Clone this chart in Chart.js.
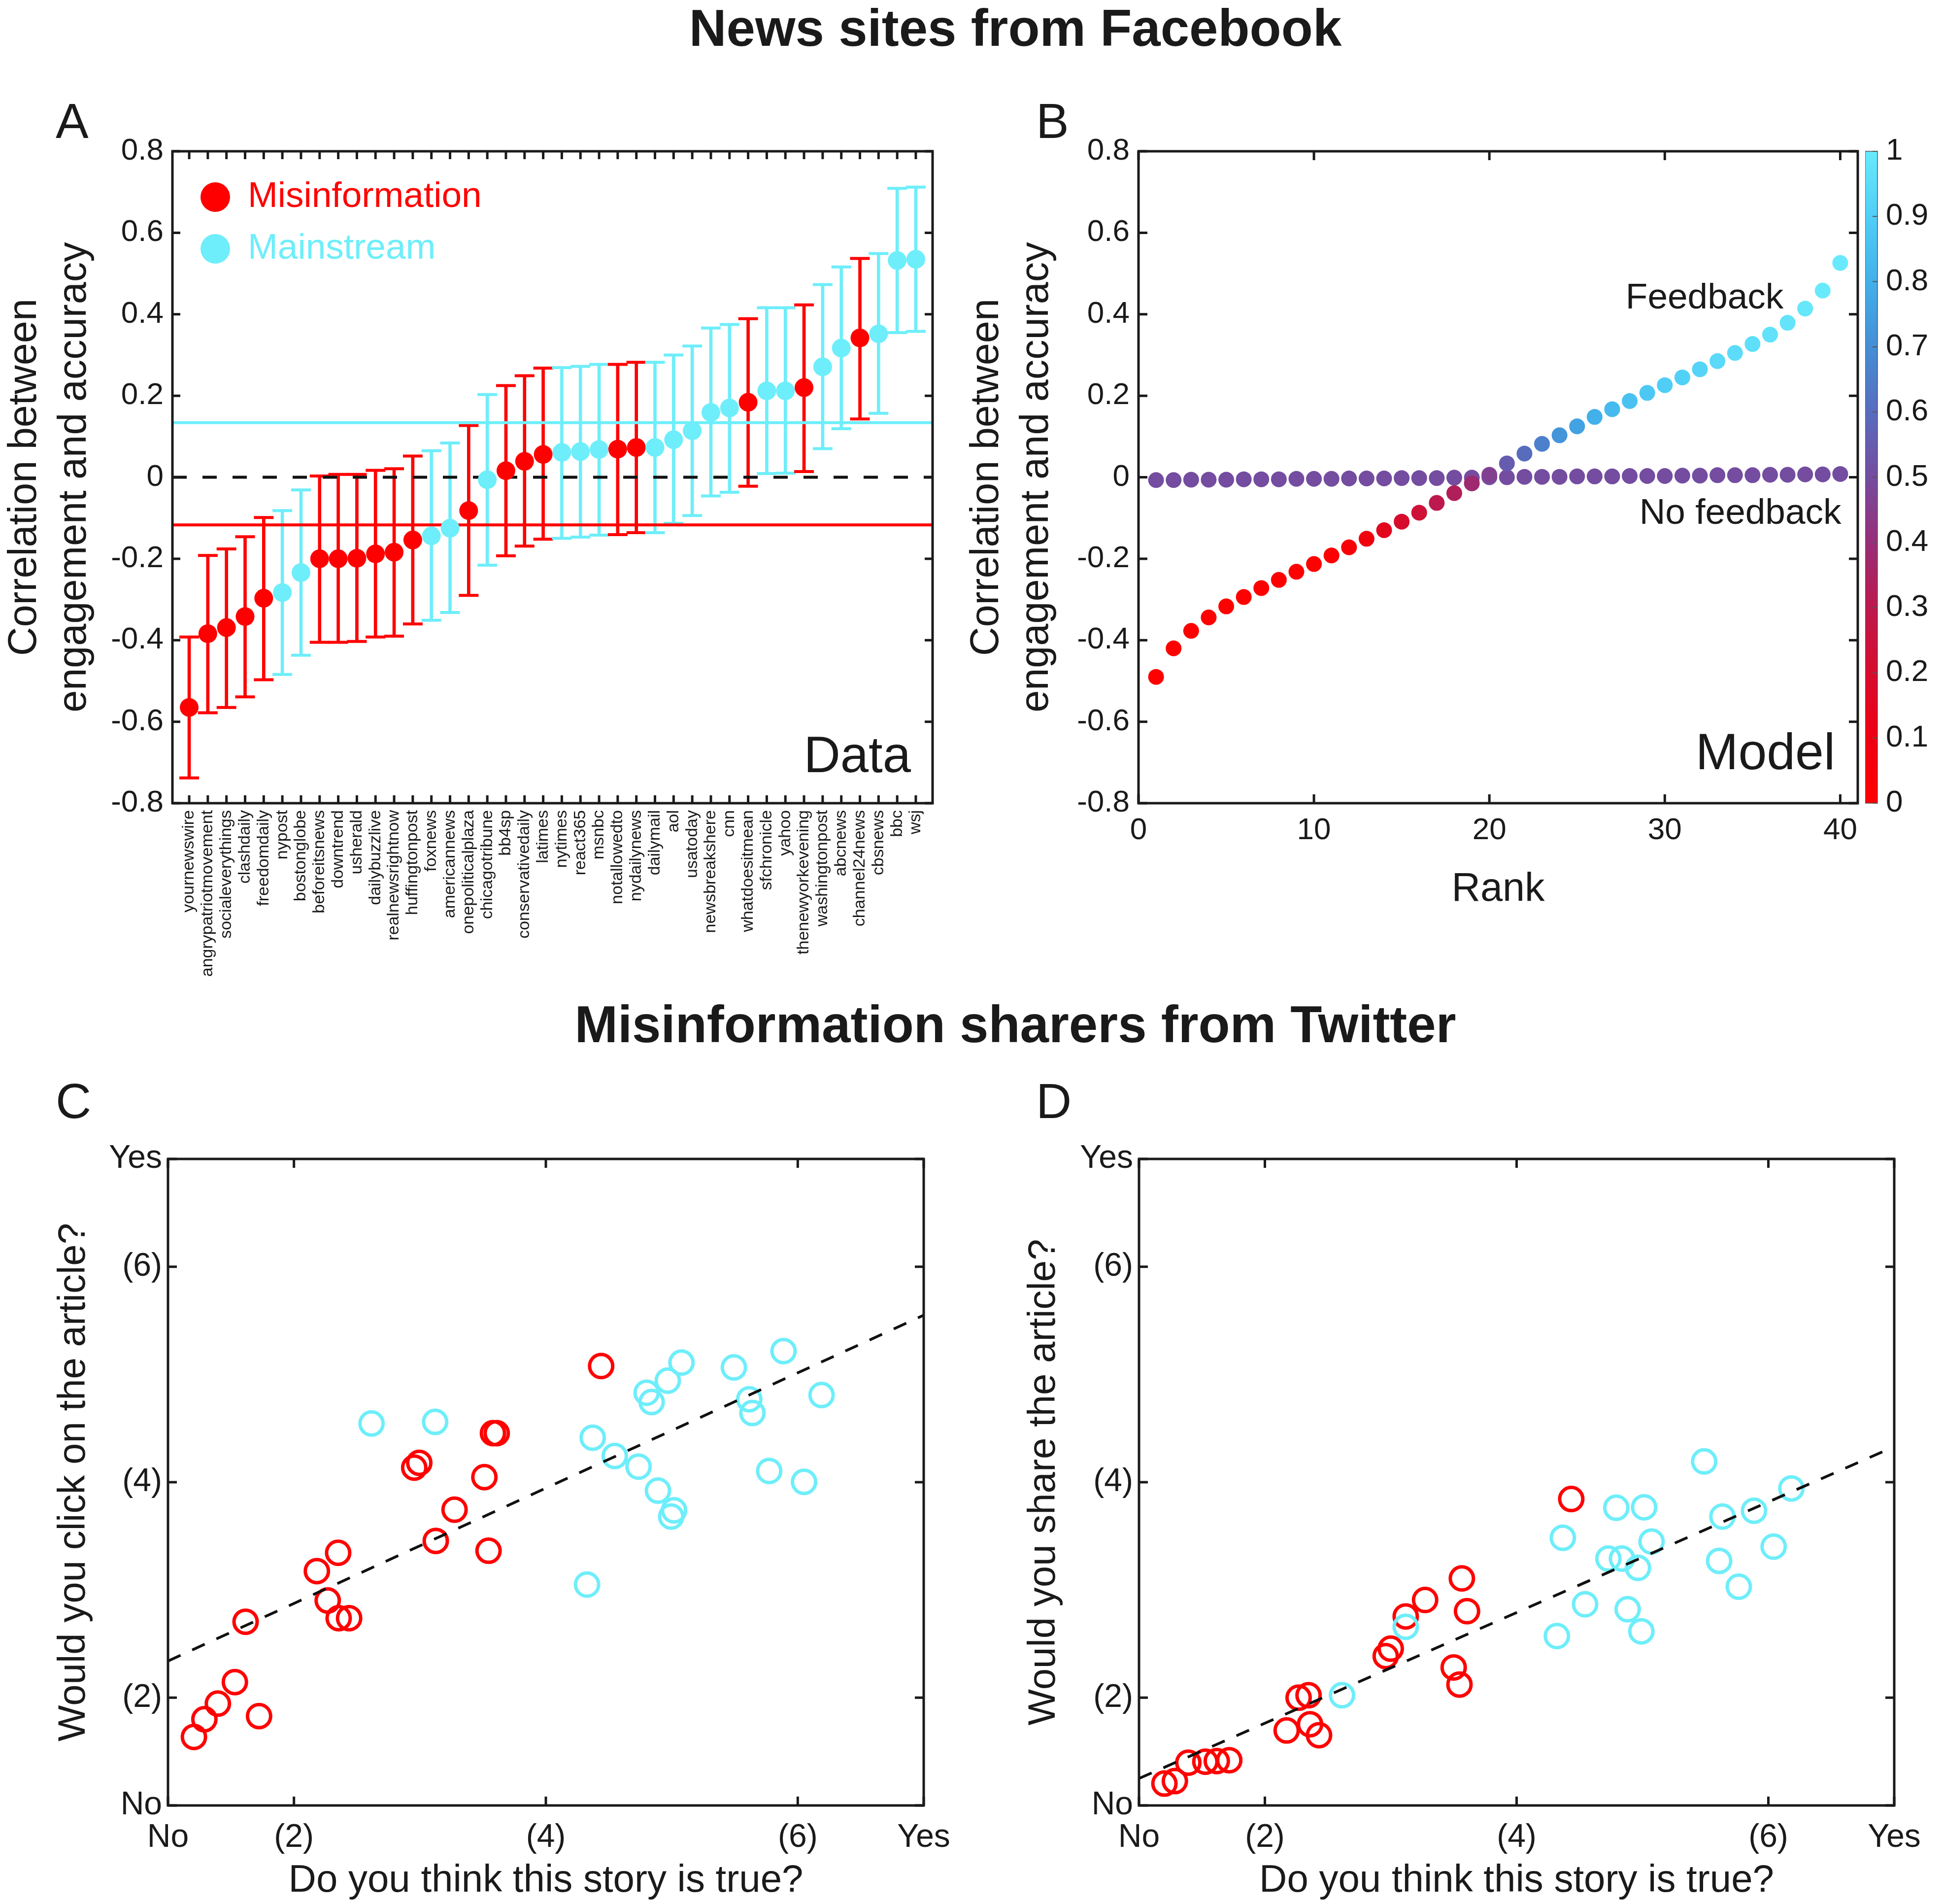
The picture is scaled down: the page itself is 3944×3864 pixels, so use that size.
<!DOCTYPE html>
<html>
<head>
<meta charset="utf-8">
<title>News sites from Facebook / Misinformation sharers from Twitter</title>
<script src="https://cdn.jsdelivr.net/npm/chart.js@4/dist/chart.umd.min.js"></script>
<style>
  html, body { margin:0; padding:0; background:#ffffff; }
  body { position:relative; width:3944px; height:3864px; overflow:hidden;
         font-family:'Liberation Sans', Arial, Helvetica, sans-serif; color:#1a1a1a; }
  canvas { position:absolute; }
  .lbl { position:absolute; white-space:nowrap; line-height:1; }
  .ttl { font-weight:bold; font-size:105px; transform:translateX(-50%); }
  .pl { font-size:100px; }
</style>
</head>
<body>
<div class="lbl ttl" style="left:2061px; top:4px;">News sites from Facebook</div>
<div class="lbl pl" style="left:113px; top:195px;">A</div>
<div class="lbl pl" style="left:2103px; top:195px;">B</div>
<div class="lbl ttl" style="left:2061px; top:2026px;">Misinformation sharers from Twitter</div>
<div class="lbl pl" style="left:113px; top:2184px;">C</div>
<div class="lbl pl" style="left:2103px; top:2184px;">D</div>

<canvas id="cA" width="2010" height="1840" style="left:0px; top:180px;"></canvas>
<canvas id="cB" width="1994" height="1840" style="left:1950px; top:180px;"></canvas>
<canvas id="cBar" width="158" height="1480" style="left:3786px; top:230px;"></canvas>
<canvas id="cC" width="2000" height="1614" style="left:0px; top:2250px;"></canvas>
<canvas id="cD" width="1984" height="1614" style="left:1960px; top:2250px;"></canvas>

<script>
// ================= DATA =================
// ---- Panel A: news sites (Facebook) ----
const siteNames = ['yournewswire','angrypatriotmovement','socialeverythings','clashdaily','freedomdaily','nypost','bostonglobe','beforeitsnews','downtrend','usherald','dailybuzzlive','realnewsrightnow','huffingtonpost','foxnews','americannews','onepoliticalplaza','chicagotribune','bb4sp','conservativedaily','latimes','nytimes','react365','msnbc','notallowedto','nydailynews','dailymail','aol','usatoday','newsbreakshere','cnn','whatdoesitmean','sfchronicle','yahoo','thenewyorkevening','washingtonpost','abcnews','channel24news','cbsnews','bbc','wsj'];
const siteGroup = ['mis','mis','mis','mis','mis','main','main','mis','mis','mis','mis','mis','mis','main','main','mis','main','mis','mis','mis','main','main','main','mis','mis','main','main','main','main','main','mis','main','main','mis','main','main','mis','main','main','main'];
const siteCorr = [-0.565,-0.384,-0.369,-0.342,-0.297,-0.283,-0.234,-0.200,-0.200,-0.199,-0.188,-0.184,-0.154,-0.144,-0.125,-0.082,-0.006,0.016,0.039,0.056,0.061,0.063,0.068,0.069,0.073,0.073,0.092,0.114,0.159,0.170,0.184,0.212,0.212,0.220,0.271,0.317,0.342,0.352,0.532,0.535];
const siteLow = [-0.738,-0.578,-0.565,-0.539,-0.497,-0.484,-0.437,-0.405,-0.405,-0.403,-0.392,-0.390,-0.360,-0.351,-0.332,-0.290,-0.216,-0.193,-0.169,-0.152,-0.150,-0.147,-0.142,-0.141,-0.136,-0.136,-0.113,-0.094,-0.046,-0.037,-0.022,0.009,0.010,0.014,0.070,0.119,0.143,0.157,0.355,0.358];
const siteHigh = [-0.392,-0.192,-0.176,-0.146,-0.099,-0.082,-0.031,0.003,0.007,0.007,0.017,0.021,0.052,0.065,0.084,0.127,0.203,0.225,0.249,0.268,0.269,0.272,0.277,0.277,0.282,0.282,0.300,0.322,0.366,0.375,0.389,0.416,0.416,0.423,0.473,0.516,0.537,0.549,0.709,0.712];
const misMean = -0.117;
const mainMean = 0.134;
const legendLabels = ['Misinformation', 'Mainstream'];

// ---- Panel B: model ----
const rankValues = [1,2,3,4,5,6,7,8,9,10,11,12,13,14,15,16,17,18,19,20,21,22,23,24,25,26,27,28,29,30,31,32,33,34,35,36,37,38,39,40];
const feedbackCorr = [-0.490,-0.420,-0.377,-0.344,-0.317,-0.294,-0.272,-0.252,-0.232,-0.213,-0.192,-0.172,-0.151,-0.130,-0.109,-0.087,-0.063,-0.039,-0.015,0.006,0.034,0.058,0.082,0.103,0.125,0.148,0.167,0.187,0.207,0.226,0.245,0.265,0.285,0.305,0.327,0.350,0.379,0.414,0.458,0.526];
const feedbackShade = [0,0,0,0,0,0,0,0,0,0,0.02,0.04,0.08,0.15,0.20,0.23,0.30,0.33,0.38,0.46,0.55,0.60,0.66,0.72,0.76,0.80,0.83,0.86,0.88,0.90,0.91,0.92,0.94,0.95,0.96,0.97,0.98,0.99,1,1];
const noFeedbackCorr = [-0.007,-0.007,-0.006,-0.006,-0.006,-0.005,-0.005,-0.005,-0.004,-0.004,-0.004,-0.003,-0.003,-0.003,-0.002,-0.002,-0.002,-0.001,-0.001,0.000,0.000,0.001,0.001,0.001,0.002,0.002,0.002,0.003,0.003,0.003,0.004,0.004,0.005,0.005,0.005,0.006,0.006,0.007,0.007,0.008];
const noFeedbackShade = 0.5;
const rankTicks = [0,10,20,30,40];
const shadeStops = [[0,[255,0,0]],[0.1,[238,0,18]],[0.2,[215,12,45]],[0.3,[188,25,78]],[0.4,[152,45,120]],[0.5,[116,76,160]],[0.6,[88,108,190]],[0.7,[68,142,214]],[0.8,[66,176,234]],[0.9,[80,206,246]],[1,[104,234,252]]];

// ---- Panels C & D: Twitter misinformation sharers ----
const likertTicks = [1,2,4,6,7];
const likertLabels = ['No','(2)','(4)','(6)','Yes'];
const fitX = [1,7];
const clickMisX = [1.206,1.289,1.396,1.531,1.723,1.616,2.182,2.351,2.268,2.355,2.438,2.955,2.995,3.126,3.275,3.512,3.545,3.580,3.610,4.439];
const clickMisY = [1.636,1.800,1.945,2.145,1.829,2.705,3.175,3.345,2.902,2.738,2.738,4.135,4.180,3.455,3.745,4.047,3.364,4.455,4.455,5.078];
const clickMainX = [2.616,3.121,5.077,4.968,4.800,4.840,5.493,5.887,5.615,5.640,6.189,4.372,4.547,4.736,4.890,5.018,4.995,5.773,6.050,4.327];
const clickMainY = [4.545,4.560,5.110,4.943,4.830,4.744,5.065,5.217,4.770,4.642,4.809,4.413,4.243,4.144,3.922,3.739,3.681,4.104,4.003,3.050];
const clickFitY = [2.34,5.55];
const shareMisX = [1.202,1.285,1.392,1.527,1.618,1.717,2.173,2.359,2.430,2.268,2.347,2.960,3.000,3.119,3.273,3.565,3.606,3.500,3.546,4.434];
const shareMisY = [1.203,1.226,1.397,1.406,1.412,1.420,1.696,1.754,1.652,2.000,2.023,2.386,2.455,2.754,2.907,3.107,2.803,2.281,2.122,3.844];
const shareMainX = [2.613,3.119,5.490,4.792,5.013,6.183,5.635,5.886,4.367,5.072,4.729,4.837,4.964,6.042,5.609,5.765,4.544,4.882,4.991,4.320];
const shareMainY = [2.023,2.658,4.193,3.763,3.767,3.942,3.681,3.735,3.484,3.449,3.291,3.291,3.205,3.402,3.270,3.030,2.867,2.821,2.616,2.572];
const shareFitY = [1.25,4.33];

// ================= STYLE =================
const FONT = "'Liberation Sans', Arial, Helvetica, sans-serif";
const RED = '#ff0000';
const CYAN = '#6eeefa';
const INK = '#1a1a1a';
Chart.defaults.font.family = FONT;
Chart.defaults.color = INK;

function shadeColor(v) {
  for (let i = 1; i < shadeStops.length; i++) {
    if (v <= shadeStops[i][0]) {
      const [a, ca] = shadeStops[i - 1], [b, cb] = shadeStops[i];
      const t = (v - a) / (b - a);
      return 'rgb(' + ca.map((c, k) => Math.round(c + (cb[k] - c) * t)).join(',') + ')';
    }
  }
  return 'rgb(' + shadeStops[shadeStops.length - 1][1].join(',') + ')';
}
const numFmt = v => String(Math.round(v * 100) / 100);
const likertFmt = v => { const k = likertTicks.indexOf(v); return k >= 0 ? likertLabels[k] : ''; };

function framePlugin(cfg) {
  return {
    id: 'frame',
    afterDatasetsDraw(chart) {
      const { ctx, chartArea: a, scales } = chart;
      const L = cfg.tickLen, xs = scales.x, ys = scales.y;
      ctx.save();
      ctx.strokeStyle = cfg.color;
      ctx.lineWidth = cfg.tickWidth;
      ctx.beginPath();
      if (cfg.xTicks) xs.ticks.forEach(t => {
        const p = xs.getPixelForValue(t.value);
        ctx.moveTo(p, a.bottom); ctx.lineTo(p, a.bottom - L);
        ctx.moveTo(p, a.top); ctx.lineTo(p, a.top + L);
      });
      ys.ticks.forEach(t => {
        const p = ys.getPixelForValue(t.value);
        if (cfg.yLeft) { ctx.moveTo(a.left, p); ctx.lineTo(a.left + L, p); }
        if (cfg.yRight) { ctx.moveTo(a.right, p); ctx.lineTo(a.right - L, p); }
      });
      ctx.stroke();
      ctx.lineWidth = cfg.lineWidth;
      ctx.strokeRect(a.left, a.top, a.right - a.left, a.bottom - a.top);
      ctx.restore();
    }
  };
}
function notesPlugin(items) {
  return {
    id: 'notes',
    afterDatasetsDraw(chart) {
      const { ctx, chartArea: a, scales } = chart;
      items.forEach(it => {
        let x, y;
        if (it.dataX !== undefined) { x = scales.x.getPixelForValue(it.dataX); y = scales.y.getPixelForValue(it.dataY); }
        else { x = a.right - it.right; y = a.bottom - it.bottom; }
        ctx.save();
        ctx.font = it.size + 'px ' + FONT;
        ctx.fillStyle = it.color || INK;
        ctx.textAlign = it.align || 'right';
        ctx.textBaseline = it.baseline || 'middle';
        ctx.fillText(it.text, x, y);
        ctx.restore();
      });
    }
  };
}
function keyPlugin(items, radius, gap, size) {
  return {
    id: 'key',
    afterDatasetsDraw(chart) {
      const { ctx, chartArea: a } = chart;
      ctx.save();
      ctx.font = size + 'px ' + FONT;
      ctx.textAlign = 'left';
      ctx.textBaseline = 'middle';
      items.forEach(it => {
        const cx = a.left + it.dx, cy = a.top + it.dy;
        ctx.fillStyle = it.color;
        ctx.beginPath(); ctx.arc(cx, cy, radius, 0, Math.PI * 2); ctx.fill();
        ctx.fillText(it.label, cx + gap, cy);
      });
      ctx.restore();
    }
  };
}
const common = { devicePixelRatio: 1, responsive: false, animation: false, events: [] };
const noPlug = { legend: { display: false }, tooltip: { enabled: false } };
const hidden = { display: false, drawTicks: false };

// ================= PANEL A =================
const A_XMIN = 0.1, A_XMAX = 40.9;
const xA = siteNames.map((n, i) => i + 1);
const colA = siteGroup.map(g => g === 'mis' ? RED : CYAN);
new Chart(document.getElementById('cA'), {
  type: 'scatter',
  data: { datasets: [
    { type: 'scatter', data: xA.map((x, i) => ({ x, y: siteCorr[i] })), pointRadius: 19, pointBackgroundColor: colA, pointBorderWidth: 0, order: 0 },
    { type: 'line', data: [{ x: A_XMIN, y: 0 }, { x: A_XMAX, y: 0 }], borderColor: '#111111', borderWidth: 6, borderDash: [29, 32], pointRadius: 0, order: 1 },
    { type: 'line', data: [{ x: A_XMIN, y: mainMean }, { x: A_XMAX, y: mainMean }], borderColor: CYAN, borderWidth: 6, pointRadius: 0, order: 2 },
    { type: 'line', data: [{ x: A_XMIN, y: misMean }, { x: A_XMAX, y: misMean }], borderColor: RED, borderWidth: 6, pointRadius: 0, order: 2 },
    { type: 'scatter', data: xA.map((x, i) => ({ x, y: siteLow[i] })).concat(xA.map((x, i) => ({ x, y: siteHigh[i] }))),
      pointStyle: 'line', pointRadius: 20, pointBorderWidth: 6, pointBorderColor: colA.concat(colA), order: 3 },
    { type: 'bar', data: xA.map((x, i) => ({ x, y: [siteLow[i], siteHigh[i]] })), backgroundColor: colA, borderWidth: 0, barThickness: 6, order: 4 }
  ]},
  options: Object.assign({}, common, {
    layout: { padding: { left: 0, top: 127, right: 117, bottom: 0 } },
    plugins: noPlug,
    scales: {
      x: { type: 'linear', min: A_XMIN, max: A_XMAX, offset: false, grid: hidden, border: { display: false },
           afterBuildTicks: s => { s.ticks = xA.map(v => ({ value: v })); },
           afterFit: s => { s.height = 390; },
           ticks: { autoSkip: false, minRotation: 90, maxRotation: 90, padding: 14, color: INK, font: { size: 34 },
                    callback: v => siteNames[Math.round(v) - 1] || '' } },
      y: { type: 'linear', min: -0.8, max: 0.8, grid: hidden, border: { display: false },
           afterFit: s => { s.width = 350; },
           ticks: { stepSize: 0.2, padding: 18, color: INK, font: { size: 62 }, callback: numFmt },
           title: { display: true, text: ['Correlation between', 'engagement and accuracy'], color: INK,
                    font: { size: 81, lineHeight: 1.25 }, padding: { top: 0, bottom: 0 } } }
    }
  }),
  plugins: [
    framePlugin({ xTicks: true, yLeft: true, yRight: true, tickLen: 16, tickWidth: 5, lineWidth: 5, color: INK }),
    notesPlugin([{ text: 'Data', size: 103, right: 44, bottom: 63, baseline: 'alphabetic', align: 'right' }]),
    keyPlugin([{ label: legendLabels[0], color: RED, dx: 87, dy: 93 }, { label: legendLabels[1], color: CYAN, dx: 87, dy: 198 }], 30, 66, 73)
  ]
});

// ================= PANEL B =================
new Chart(document.getElementById('cB'), {
  type: 'scatter',
  data: { datasets: [
    { type: 'scatter', data: rankValues.map((r, i) => ({ x: r, y: feedbackCorr[i] })), pointRadius: 16,
      pointBackgroundColor: feedbackShade.map(shadeColor), pointBorderWidth: 0, order: 0 },
    { type: 'scatter', data: rankValues.map((r, i) => ({ x: r, y: noFeedbackCorr[i] })), pointRadius: 16,
      pointBackgroundColor: shadeColor(noFeedbackShade), pointBorderWidth: 0, order: 1 }
  ]},
  options: Object.assign({}, common, {
    layout: { padding: { left: 0, top: 127, right: 173, bottom: 0 } },
    plugins: noPlug,
    scales: {
      x: { type: 'linear', min: 0, max: 41, grid: hidden, border: { display: false },
           afterBuildTicks: s => { s.ticks = rankTicks.map(v => ({ value: v })); },
           afterFit: s => { s.height = 390; },
           ticks: { padding: 19, color: INK, font: { size: 62 }, callback: numFmt },
           title: { display: true, text: 'Rank', color: INK, font: { size: 81, lineHeight: 1.25 }, padding: { top: 0, bottom: 164 } } },
      y: { type: 'linear', min: -0.8, max: 0.8, grid: hidden, border: { display: false },
           afterFit: s => { s.width = 361; },
           ticks: { stepSize: 0.2, padding: 18, color: INK, font: { size: 62 }, callback: numFmt },
           title: { display: true, text: ['Correlation between', 'engagement and accuracy'], color: INK,
                    font: { size: 81, lineHeight: 1.25 }, padding: { top: 3, bottom: 0 } } }
    }
  }),
  plugins: [
    framePlugin({ xTicks: true, yLeft: true, yRight: true, tickLen: 18, tickWidth: 5, lineWidth: 5, color: INK }),
    notesPlugin([
      { text: 'Model', size: 104, right: 46, bottom: 69, baseline: 'alphabetic', align: 'right' },
      { text: 'Feedback', size: 73, dataX: 36.77, dataY: 0.438, align: 'right', baseline: 'middle' },
      { text: 'No feedback', size: 73, dataX: 40.06, dataY: -0.090, align: 'right', baseline: 'middle' }
    ])
  ]
});

// ================= COLOUR BAR =================
new Chart(document.getElementById('cBar'), {
  type: 'bar',
  data: { labels: ['shade'], datasets: [{
    data: [[0, 1]], borderWidth: 0, categoryPercentage: 1, barPercentage: 1,
    backgroundColor: c => {
      const ch = c.chart, a = ch.chartArea;
      if (!a) return shadeColor(0.5);
      const g = ch.ctx.createLinearGradient(0, a.bottom, 0, a.top);
      shadeStops.forEach(([v, rgb]) => g.addColorStop(v, 'rgb(' + rgb.join(',') + ')'));
      return g;
    }
  }]},
  options: Object.assign({}, common, {
    layout: { padding: { left: 0, right: 0, top: 77, bottom: 80 } },
    plugins: noPlug,
    scales: {
      x: { display: false },
      y: { position: 'right', min: 0, max: 1, grid: hidden, border: { display: false },
           afterFit: s => { s.width = 133; },
           ticks: { stepSize: 0.1, padding: 17, color: INK, font: { size: 62 }, callback: numFmt } }
    }
  }),
  plugins: [framePlugin({ xTicks: false, yLeft: false, yRight: true, tickLen: 10, tickWidth: 2, lineWidth: 1.5, color: '#555555' })]
});

// ================= PANELS C & D =================
function makeLikert(id, misX, misY, mainX, mainY, fitY, yTitle, yWidth, padRight, yTitlePad) {
  new Chart(document.getElementById(id), {
    type: 'scatter',
    data: { datasets: [
      { type: 'line', data: fitX.map((x, i) => ({ x, y: fitY[i] })), borderColor: '#111111', borderWidth: 5.5,
        borderDash: [28, 26], pointRadius: 0, order: 0 },
      { type: 'scatter', data: mainX.map((x, i) => ({ x, y: mainY[i] })), pointRadius: 23.5, pointBorderWidth: 7,
        pointBorderColor: CYAN, pointBackgroundColor: 'rgba(0,0,0,0)', order: 1 },
      { type: 'scatter', data: misX.map((x, i) => ({ x, y: misY[i] })), pointRadius: 23.5, pointBorderWidth: 7,
        pointBorderColor: RED, pointBackgroundColor: 'rgba(0,0,0,0)', order: 2 }
    ]},
    options: Object.assign({}, common, {
      layout: { padding: { left: 0, top: 102, right: padRight, bottom: 0 } },
      plugins: noPlug,
      scales: {
        x: { type: 'linear', min: 1, max: 7, grid: hidden, border: { display: false },
             afterBuildTicks: s => { s.ticks = likertTicks.map(v => ({ value: v })); },
             afterFit: s => { s.height = 200; },
             ticks: { padding: 26, color: INK, font: { size: 66 }, callback: likertFmt },
             title: { display: true, text: 'Do you think this story is true?', color: INK, font: { size: 78, lineHeight: 1.2 }, padding: { top: 0, bottom: 0 } } },
        y: { type: 'linear', min: 1, max: 7, grid: hidden, border: { display: false },
             afterBuildTicks: s => { s.ticks = likertTicks.map(v => ({ value: v })); },
             afterFit: s => { s.width = yWidth; },
             ticks: { padding: 12, color: INK, font: { size: 66 }, callback: likertFmt },
             title: { display: true, text: yTitle, color: INK, font: { size: 78, lineHeight: 1.2 }, padding: { top: yTitlePad, bottom: 0 } } }
      }
    }),
    plugins: [framePlugin({ xTicks: true, yLeft: true, yRight: true, tickLen: 18, tickWidth: 5, lineWidth: 5, color: INK })]
  });
}
makeLikert('cC', clickMisX, clickMisY, clickMainX, clickMainY, clickFitY, 'Would you click on the article?', 341, 125, 104);
makeLikert('cD', shareMisX, shareMisY, shareMainX, shareMainY, shareFitY, 'Would you share the article?', 352, 99, 113);
</script>
</body>
</html>
